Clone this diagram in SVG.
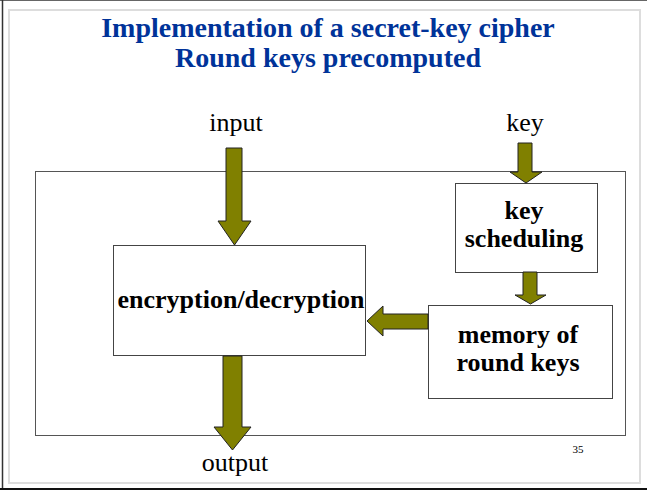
<svg xmlns="http://www.w3.org/2000/svg" width="647" height="490" viewBox="0 0 647 490">
  <style>
    .title { font-family: "Liberation Serif", "Times New Roman", serif; font-weight: bold; font-size: 28px; fill: #003399; text-anchor: middle; }
    .lbl { font-family: "Liberation Serif", "Times New Roman", serif; font-size: 26px; fill: #000; text-anchor: middle; }
    .box { fill: #fff; stroke: #444; stroke-width: 1; }
    .boxtxt { font-family: "Liberation Serif", "Times New Roman", serif; font-weight: bold; font-size: 26px; fill: #000; text-anchor: middle; }
    .arrow { fill: #808000; stroke: #222; stroke-width: 1; stroke-linejoin: miter; }
  </style>

  <!-- page background and borders -->
  <rect x="0" y="0" width="647" height="490" fill="#fff"/>
  <line x1="0" y1="0.5" x2="647" y2="0.5" stroke="#666" stroke-width="1"/>
  <line x1="2.5" y1="0" x2="2.5" y2="490" stroke="#333" stroke-width="1.5"/>
  <line x1="0" y1="489" x2="647" y2="489" stroke="#111" stroke-width="2"/>
  <rect x="9" y="10" width="631" height="473" fill="none" stroke="#ddd" stroke-width="2"/>

  <!-- titles -->
  <text class="title" x="328" y="37">Implementation of a secret-key cipher</text>
  <text class="title" x="328" y="67">Round keys precomputed</text>

  <!-- enclosing frame -->
  <rect x="35.5" y="171.5" width="590" height="264" fill="none" stroke="#555" stroke-width="1"/>

  <text class="lbl" x="236" y="131">input</text>
  <text class="lbl" x="525" y="131">key</text>
  <text class="lbl" x="235" y="471">output</text>
  <text x="578" y="453" font-family="Liberation Serif, serif" font-size="11" text-anchor="middle">35</text>

  <g id="enc">
    <rect class="box" x="113.5" y="245.5" width="252" height="110"/>
    <text class="boxtxt" x="241" y="308">encryption/decryption</text>
  </g>

  <g id="keysched">
    <rect class="box" x="455.5" y="183.5" width="142" height="89"/>
    <text class="boxtxt" x="524" y="219">key</text>
    <text class="boxtxt" x="524" y="247">scheduling</text>
  </g>

  <g id="memory">
    <rect class="box" x="428.5" y="305.5" width="184" height="93"/>
    <text class="boxtxt" x="518" y="343">memory of</text>
    <text class="boxtxt" x="518" y="371">round keys</text>
  </g>

  <g id="connectors">
    <!-- input down into encryption box -->
    <polygon class="arrow" points="226,148 242,148 242,221 251,221 234.5,245 218,221 226,221"/>
    <!-- key down into key scheduling -->
    <polygon class="arrow" points="518,143 532,143 532,172 542,172 526,183 510,172 518,172"/>
    <!-- key scheduling down into memory -->
    <polygon class="arrow" points="523,272 537,272 537,295 546,295 530.5,304 515,295 523,295"/>
    <!-- memory left into encryption box -->
    <polygon class="arrow" points="428,314 383,314 383,306 367,321 383,336 383,329 428,329"/>
    <!-- encryption box down to output -->
    <polygon class="arrow" points="223,356 242,356 242,427 251,427 232.5,450 214,427 223,427"/>
  </g>
</svg>
